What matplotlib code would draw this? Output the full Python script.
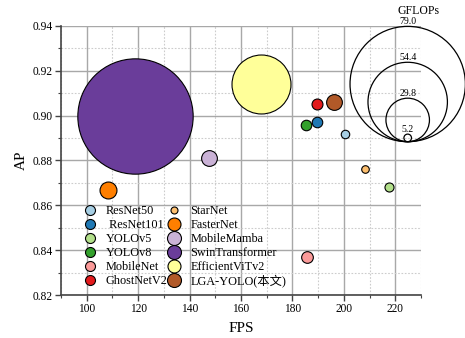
import matplotlib.pyplot as plt
import matplotlib.patches as mpatches
from matplotlib.lines import Line2D
from matplotlib.ticker import MultipleLocator

plt.rcParams['font.family'] = ['Liberation Serif', 'Noto Sans CJK SC']

# datos de los modelos
modelos = ['ResNet50', ' ResNet101', 'YOLOv5', 'YOLOv8', 'MobileNet', 'GhostNetV2',
           'StarNet', 'FasterNet', 'MobileMamba', 'SwinTransformer', 'EfficientViTv2',
           'LGA-YOLO(本文)']
fps = [200.3, 189.5, 217.4, 185.3, 185.5, 189.4, 208.1, 108.2, 147.6, 118.8, 167.6, 196.3]
ap = [0.892, 0.897, 0.868, 0.896, 0.837, 0.905, 0.876, 0.867, 0.881, 0.900, 0.914, 0.906]
gflops = [5.8, 7.2, 6.2, 7.2, 8.0, 7.5, 5.2, 11.6, 10.8, 79.0, 40.4, 10.8]
colores = ['#a6cee3', '#1f78b4', '#b2df8a', '#33a02c', '#fb9a99', '#e31a1c',
           '#fdbf6f', '#ff7f00', '#cab2d6', '#6a3d9a', '#ffff99', '#b15928']
# tamaño del marcador en la leyenda (px)
tam_leyenda = [10, 10, 10, 10, 10, 10, 7, 13, 14, 14, 13, 14]
# valores de la leyenda de tamaños
gflops_ref = [79.0, 54.4, 29.8, 5.2]

PX_POR_GFLOP = 1.46  # diametro en pixeles por GFLOP
PT = 0.72            # pixeles -> puntos (dpi 100)

fig = plt.figure(figsize=(4.65, 3.38), dpi=100)
ax = fig.add_axes([0.1312, 0.1272, 0.7742, 0.7959])

ax.set_xlim(90, 230)
ax.set_ylim(0.82, 0.94)
ax.xaxis.set_major_locator(MultipleLocator(20))
ax.xaxis.set_minor_locator(MultipleLocator(10))
ax.yaxis.set_major_locator(MultipleLocator(0.02))
ax.yaxis.set_minor_locator(MultipleLocator(0.01))
ax.set_xticks(range(100, 221, 20))
ax.yaxis.set_major_formatter(plt.FormatStrFormatter('%.2f'))

ax.grid(which='major', color='#a8a8a8', linewidth=1.0, linestyle='-')
ax.grid(which='minor', color='#cccccc', linewidth=0.8, linestyle=(0, (1.5, 1.5)))
ax.set_axisbelow(True)

for lado in ['top', 'right']:
    ax.spines[lado].set_visible(False)
for lado in ['left', 'bottom']:
    ax.spines[lado].set_color('#444444')
    ax.spines[lado].set_linewidth(1.2)
ax.tick_params(which='major', direction='out', length=4, width=1, color='#444444',
               labelsize=8.3, pad=2)
ax.tick_params(which='minor', direction='out', length=2, width=0.8, color='#444444')

# burbujas, primero las grandes
orden = sorted(range(len(modelos)), key=lambda i: -gflops[i])
for i in orden:
    d = gflops[i] * PX_POR_GFLOP * PT
    ax.scatter(fps[i], ap[i], s=d ** 2, color=colores[i], edgecolors='black',
               linewidths=0.8, zorder=3)

ax.set_xlabel('FPS', fontsize=11, labelpad=5)
ax.set_ylabel('AP', fontsize=11, labelpad=3)

# leyenda de modelos
manejadores = [Line2D([], [], linestyle='none', marker='o', markersize=t * PT,
                      markerfacecolor=c, markeredgecolor='black', markeredgewidth=0.8)
               for c, t in zip(colores, tam_leyenda)]
ax.legend(manejadores, modelos, ncol=2, frameon=False, fontsize=8.8,
          loc='upper left', bbox_to_anchor=(83.8 / 465, (338 - 205) / 338),
          bbox_transform=fig.transFigure, borderpad=0, borderaxespad=0,
          handlelength=1.0, handletextpad=0.8, labelspacing=0.16, columnspacing=0.05)

# leyenda de tamaños (GFLOPs) en coordenadas de pixel
capa = fig.add_axes([0, 0, 1, 1], zorder=5)
capa.set_xlim(0, 465)
capa.set_ylim(338, 0)
capa.axis('off')
cx, base = 407.7, 141.7
for g in gflops_ref:
    d = g * PX_POR_GFLOP
    capa.add_patch(mpatches.Circle((cx, base - d / 2), d / 2, facecolor='none',
                                   edgecolor='black', linewidth=0.9))
    capa.text(cx, base - d - 0.5, f'{g:.1f}', ha='center', va='bottom', fontsize=7)
capa.text(418, 11, 'GFLOPs', ha='center', va='center', fontsize=8.5)

fig.savefig('out.png', dpi=100)
